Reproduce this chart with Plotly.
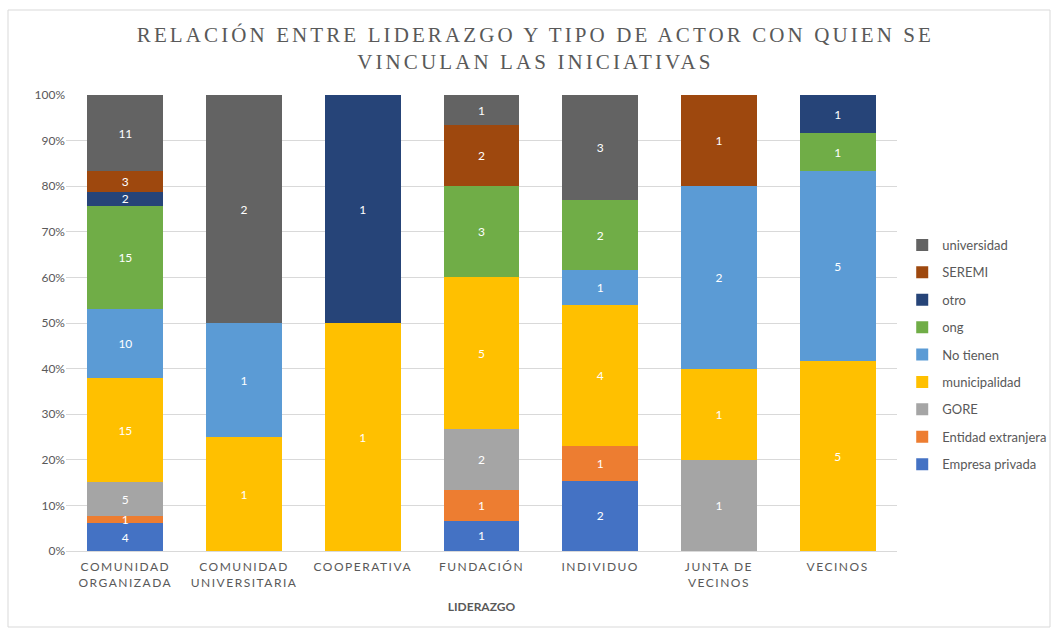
import plotly.graph_objects as go

categories = ["COMUNIDAD<br>ORGANIZADA", "COMUNIDAD<br>UNIVERSITARIA", "COOPERATIVA",
              "FUNDACIÓN", "INDIVIDUO", "JUNTA DE<br>VECINOS", "VECINOS"]

empresa_privada = [4, 0, 0, 1, 2, 0, 0]
entidad_extranjera = [1, 0, 0, 1, 1, 0, 0]
gore = [5, 0, 0, 2, 0, 1, 0]
municipalidad = [15, 1, 1, 5, 4, 1, 5]
no_tienen = [10, 1, 0, 0, 1, 2, 5]
ong = [15, 0, 0, 3, 2, 0, 1]
otro = [2, 0, 1, 0, 0, 0, 1]
seremi = [3, 0, 0, 2, 0, 1, 0]
universidad = [11, 2, 0, 1, 3, 0, 0]

series = [
    ("Empresa privada", empresa_privada, "#4472C4"),
    ("Entidad extranjera", entidad_extranjera, "#ED7D31"),
    ("GORE", gore, "#A5A5A5"),
    ("municipalidad", municipalidad, "#FFC000"),
    ("No tienen", no_tienen, "#5B9BD5"),
    ("ong", ong, "#70AD47"),
    ("otro", otro, "#264478"),
    ("SEREMI", seremi, "#9E480E"),
    ("universidad", universidad, "#636363"),
]

fig = go.Figure()
for i, (name, vals, color) in enumerate(series):
    fig.add_trace(go.Bar(
        x=categories, y=vals, name=name, marker=dict(color=color, line=dict(width=0)),
        text=[str(v) if v else None for v in vals],
        texttemplate="%{text}", textposition="inside", insidetextanchor="middle",
        textangle=0,
        textfont=dict(color="white", size=12, family="Lato"),
        legendgroup=name, legendrank=1000 - i,
    ))

grey = "#595959"
fig.update_layout(
    barmode="stack", barnorm="percent", bargap=0.36,
    width=1054, height=630,
    margin=dict(l=66, r=157, t=95, b=79, autoexpand=False),
    paper_bgcolor="white", plot_bgcolor="white",
    title=dict(text="RELACIÓN ENTRE LIDERAZGO Y TIPO DE ACTOR CON QUIEN SE<br>VINCULAN LAS INICIATIVAS",
               x=0.508, xanchor="center", y=0.9333, yanchor="middle",
               font=dict(family="Liberation Serif", size=21, color=grey)),
    legend=dict(xref="container", yref="container", x=0.856, xanchor="left", y=0.4365, yanchor="middle",
                font=dict(family="Lato", size=13, color=grey), tracegroupgap=7.5,
                itemwidth=30, bgcolor="rgba(0,0,0,0)"),
    uniformtext=dict(minsize=12, mode="show"),
    showlegend=True,
)
fig.update_yaxes(range=[0, 100], dtick=10, ticksuffix="%", showgrid=True, gridcolor="#D9D9D9",
                 gridwidth=1, zeroline=False, showline=False, automargin=False,
                 tickfont=dict(family="Lato", size=12, color=grey))
fig.update_xaxes(showline=True, linecolor="#D9D9D9", linewidth=1, ticks="", automargin=False,
                 ticklabelstandoff=5,
                 tickfont=dict(family="Lato", size=12, color=grey),
                 title=dict(text="<b>LIDERAZGO</b>", font=dict(family="Lato", size=12, color=grey),
                            standoff=13))
# chart-area border (paper coordinates derived from margins)
pw, ph = 1054 - 66 - 157, 630 - 95 - 79
fig.add_shape(type="rect", xref="paper", yref="paper",
              x0=(8 - 66) / pw, x1=(1050 - 66) / pw, y0=(551 - 627) / ph, y1=(551 - 10) / ph,
              line=dict(color="#D9D9D9", width=1), fillcolor="rgba(0,0,0,0)", layer="below")

post = """
document.body.style.margin = '0';
var gd = document.getElementById('{plot_id}');
function spacing() {
  gd.querySelectorAll('.gtitle').forEach(function(e){ e.style.letterSpacing = '3.1px'; });
  gd.querySelectorAll('.xtick text').forEach(function(e){ e.style.letterSpacing = '1.5px'; });
}
spacing();
gd.on('plotly_afterplot', spacing);
"""
fig.write_html("out.html", post_script=post, config={"displayModeBar": False})
